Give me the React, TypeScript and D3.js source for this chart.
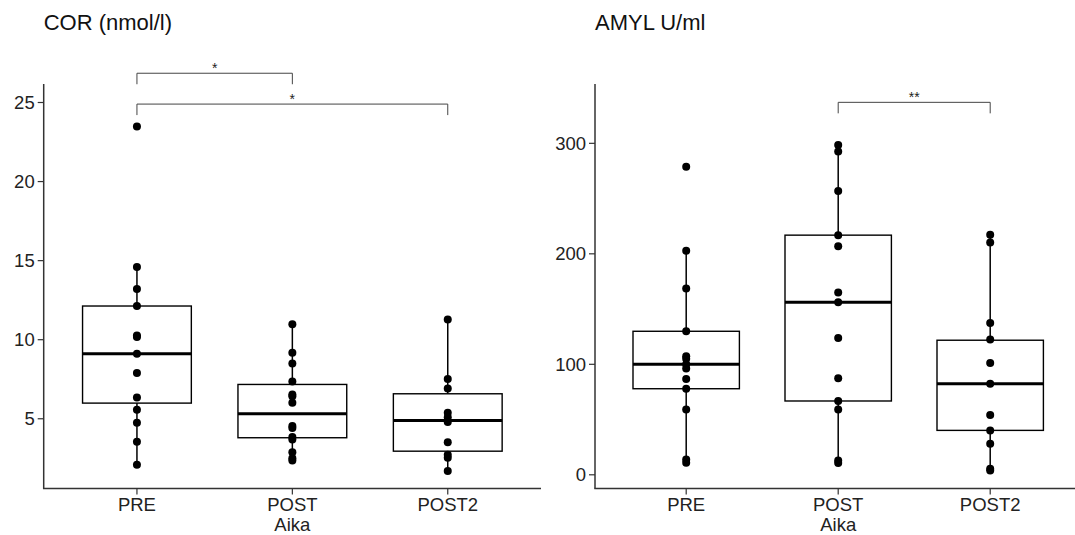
import React from "react";
import * as d3 from "d3";

const groups = ["PRE", "POST", "POST2"];

// COR (nmol/l) observations per group
const corPre = [23.48, 14.6, 13.2, 12.13, 10.27, 10.17, 9.11, 7.89, 6.35, 5.57, 4.75, 3.54, 2.09];
const corPost = [10.97, 9.18, 8.5, 7.36, 6.54, 6.43, 6.01, 4.54, 4.41, 3.84, 3.69, 2.89, 2.51, 2.36];
const corPost2 = [11.27, 7.51, 6.92, 5.38, 5.1, 4.79, 3.52, 2.72, 2.53, 1.69];

// box statistics
const corQ1 = [5.99, 3.8, 2.95];
const corMedian = [9.11, 5.32, 4.89];
const corQ3 = [12.13, 7.17, 6.58];
const corLow = [2.09, 2.36, 1.69];
const corHigh = [14.6, 10.97, 11.27];
const corTicks = [5, 10, 15, 20, 25];

// AMYL U/ml observations per group
const amylPre = [278.9, 202.7, 168.6, 129.9, 107.3, 105.1, 100, 96.1, 86.7, 77.9, 59.2, 13.9, 10.9];
const amylPost = [298.5, 292.7, 256.8, 216.9, 206.9, 165, 156.2, 123.9, 87.3, 66.8, 59.2, 13, 10.6];
const amylPost2 = [217.2, 210.3, 137.5, 122.4, 101.2, 82.5, 54.1, 40.2, 28.1, 5.4, 3.9];

const amylQ1 = [77.9, 66.8, 40.2];
const amylMedian = [100, 156.2, 82.5];
const amylQ3 = [129.9, 216.9, 121.8];
const amylLow = [10.9, 10.6, 3.9];
const amylHigh = [202.7, 298.5, 217.2];
const amylTicks = [0, 100, 200, 300];

// significance brackets: [from group, to group, label, y value]
const corBrackets: [number, number, string, number][] = [
  [0, 1, "*", 26.85],
  [0, 2, "*", 24.9],
];
const amylBrackets: [number, number, string, number][] = [[1, 2, "**", 337.1]];

const FONT = "'Liberation Sans', Arial, Helvetica, sans-serif";

type PanelProps = {
  title: string;
  left: number;
  right: number;
  yDomain: [number, number];
  ticks: number[];
  points: number[][];
  q1: number[];
  median: number[];
  q3: number[];
  low: number[];
  high: number[];
  brackets: [number, number, string, number][];
};

const TOP = 84;
const BOTTOM = 488.5;

function Panel(p: PanelProps) {
  const x = d3.scaleLinear().domain([-0.6, groups.length - 0.4]).range([p.left, p.right]);
  const y = d3.scaleLinear().domain(p.yDomain).range([BOTTOM, TOP]);
  const bw = (x(1) - x(0)) * 0.7;
  const axisColor = "#333";

  return (
    <g>
      <text x={p.left} y={30} fontSize={22} fill="#111" fontFamily={FONT}>
        {p.title}
      </text>

      {/* boxes */}
      {groups.map((g, i) => (
        <g key={g}>
          <line x1={x(i)} x2={x(i)} y1={y(p.q3[i])} y2={y(p.high[i])} stroke="#000" strokeWidth={1.5} />
          <line x1={x(i)} x2={x(i)} y1={y(p.q1[i])} y2={y(p.low[i])} stroke="#000" strokeWidth={1.5} />
          <rect
            x={x(i) - bw / 2}
            y={y(p.q3[i])}
            width={bw}
            height={y(p.q1[i]) - y(p.q3[i])}
            fill="#fff"
            stroke="#000"
            strokeWidth={1.4}
          />
          <line
            x1={x(i) - bw / 2}
            x2={x(i) + bw / 2}
            y1={y(p.median[i])}
            y2={y(p.median[i])}
            stroke="#000"
            strokeWidth={3}
          />
          {p.points[i].map((v, j) => (
            <circle key={j} cx={x(i)} cy={y(v)} r={4} fill="#000" />
          ))}
        </g>
      ))}

      {/* axes */}
      <line x1={p.left} x2={p.left} y1={TOP} y2={BOTTOM} stroke={axisColor} strokeWidth={1.5} />
      <line x1={p.left - 0.75} x2={p.right} y1={BOTTOM} y2={BOTTOM} stroke={axisColor} strokeWidth={1.5} />
      {p.ticks.map((t) => (
        <g key={t}>
          <line x1={p.left - 6} x2={p.left} y1={y(t)} y2={y(t)} stroke={axisColor} strokeWidth={1.2} />
          <text
            x={p.left - 9}
            y={y(t)}
            dy="0.36em"
            textAnchor="end"
            fontSize={18.5}
            fill="#222"
            fontFamily={FONT}
          >
            {t}
          </text>
        </g>
      ))}
      {groups.map((g, i) => (
        <g key={g}>
          <line x1={x(i)} x2={x(i)} y1={BOTTOM} y2={BOTTOM + 6} stroke={axisColor} strokeWidth={1.2} />
          <text x={x(i)} y={510.5} textAnchor="middle" fontSize={18.5} fill="#222" fontFamily={FONT}>
            {g}
          </text>
        </g>
      ))}
      <text x={x(1)} y={531} textAnchor="middle" fontSize={18.5} fill="#222" fontFamily={FONT}>
        Aika
      </text>

      {/* significance brackets */}
      {p.brackets.map(([a, b, label, v], k) => (
        <g key={k}>
          <path
            d={`M${x(a)},${y(v) + 11}V${y(v)}H${x(b)}V${y(v) + 11}`}
            fill="none"
            stroke="#444"
            strokeWidth={1}
          />
          <text
            x={(x(a) + x(b)) / 2}
            y={y(v) - 0.5}
            textAnchor="middle"
            fontSize={14}
            fill="#222"
            fontFamily={FONT}
          >
            {label}
          </text>
        </g>
      ))}
    </g>
  );
}

export default function App() {
  return (
    <svg
      width={1075}
      height={535}
      style={{ position: "absolute", left: 0, top: 0, background: "#fff" }}
    >
      <rect width={1075} height={535} fill="#fff" />
      <Panel
        title="COR (nmol/l)"
        left={43.7}
        right={541}
        yDomain={[0.59, 26.17]}
        ticks={corTicks}
        points={[corPre, corPost, corPost2]}
        q1={corQ1}
        median={corMedian}
        q3={corQ3}
        low={corLow}
        high={corHigh}
        brackets={corBrackets}
      />
      <Panel
        title="AMYL U/ml"
        left={595}
        right={1081.4}
        yDomain={[-12.4, 353.7]}
        ticks={amylTicks}
        points={[amylPre, amylPost, amylPost2]}
        q1={amylQ1}
        median={amylMedian}
        q3={amylQ3}
        low={amylLow}
        high={amylHigh}
        brackets={amylBrackets}
      />
    </svg>
  );
}
